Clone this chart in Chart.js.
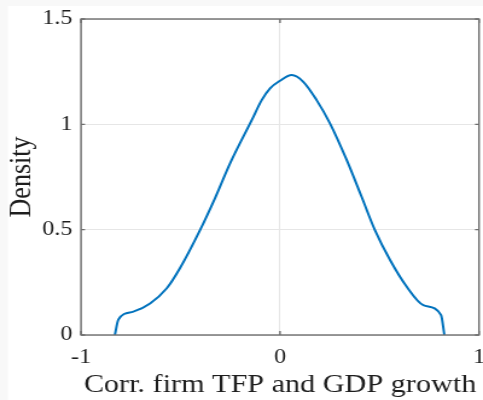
<!DOCTYPE html>
<html>
<head>
<meta charset="utf-8">
<script src="https://cdn.jsdelivr.net/npm/chart.js@4/dist/chart.umd.min.js"></script>
<style>
  html, body { margin: 0; padding: 0; background: #f8f8f8; overflow: hidden; }
  #wrap { width: 400px; height: 400px; transform: scaleX(1.2075); transform-origin: 0 0; }
</style>
</head>
<body>
<div id="wrap"><canvas id="chart" width="400" height="400"></canvas></div>
<script>
// kernel density of the correlation
const corrValues = [-0.830, -0.812, -0.737, -0.653, -0.569, -0.503, -0.402, -0.327, -0.251, -0.142,
  -0.092, -0.050, 0.000, 0.059, 0.117, 0.184, 0.251, 0.335, 0.410, 0.477,
  0.553, 0.637, 0.720, 0.809, 0.826];
const densityValues = [0.000, 0.074, 0.111, 0.150, 0.222, 0.317, 0.498, 0.649, 0.815, 1.020,
  1.115, 1.171, 1.207, 1.234, 1.202, 1.115, 1.005, 0.831, 0.656, 0.498,
  0.356, 0.229, 0.142, 0.095, 0.000];

const xTicks = [-1, 0, 1];
const xTickLabels = ['-1', '0', '1'];
const yTicks = [0, 0.5, 1, 1.5];
const yTickLabels = ['0', '0.5', '1', '1.5'];

const xTitle = 'Corr. firm TFP and GDP growth';
const yTitle = 'Density';

const stretch = 483 / 400;
const serif = "'Liberation Serif', 'Times New Roman', serif";
const textColor = '#1e1e1e';
const boxColor = '#6e6e6e';

const points = corrValues.map((x, i) => ({ x: x, y: densityValues[i] }));

function setTicks(values) {
  return scale => { scale.ticks = values.map(v => ({ value: v })); };
}
function fitX(scale) {
  scale.paddingLeft = 0;
  scale.paddingRight = 0;
  scale.height = 65;
}
function fitY(scale) {
  scale.paddingTop = 0;
  scale.paddingBottom = 0;
  scale.width = 81 / stretch;
}

const frame = {
  id: 'frame',
  beforeDraw(chart) {
    const ctx = chart.ctx;
    ctx.save();
    ctx.fillStyle = '#ffffff';
    ctx.fillRect(8 / stretch, 6, chart.width, chart.height);
    ctx.restore();
  },
  afterDraw(chart) {
    const { ctx, chartArea: a, scales } = chart;
    ctx.save();
    ctx.strokeStyle = boxColor;
    ctx.lineWidth = 1.4;
    ctx.strokeRect(a.left, a.top, a.right - a.left, a.bottom - a.top);
    // inward tick marks, like the original
    ctx.beginPath();
    xTicks.forEach(v => {
      const px = scales.x.getPixelForValue(v);
      ctx.moveTo(px, a.bottom); ctx.lineTo(px, a.bottom - 4);
      ctx.moveTo(px, a.top); ctx.lineTo(px, a.top + 4);
    });
    yTicks.forEach(v => {
      const py = scales.y.getPixelForValue(v);
      ctx.moveTo(a.left, py); ctx.lineTo(a.left + 4 / stretch, py);
      ctx.moveTo(a.right, py); ctx.lineTo(a.right - 4 / stretch, py);
    });
    ctx.stroke();
    ctx.restore();
  }
};

new Chart(document.getElementById('chart'), {
  type: 'line',
  data: {
    datasets: [{
      data: points,
      borderColor: '#0072BD',
      borderWidth: 2,
      pointRadius: 0,
      fill: false,
      cubicInterpolationMode: 'monotone'
    }]
  },
  options: {
    responsive: false,
    animation: false,
    devicePixelRatio: 1,
    layout: { padding: { left: 0, right: 400 - 479 / stretch, top: 19, bottom: 0 } },
    plugins: { legend: { display: false }, tooltip: { enabled: false } },
    scales: {
      x: {
        type: 'linear',
        min: -1,
        max: 1,
        afterBuildTicks: setTicks(xTicks),
        afterFit: fitX,
        border: { display: false },
        grid: { color: '#e6e6e6', lineWidth: 1, drawTicks: false },
        ticks: {
          padding: 11,
          maxRotation: 0,
          color: textColor,
          font: { family: serif, size: 20 },
          callback: (v, i) => xTickLabels[i]
        },
        title: {
          display: true,
          text: xTitle,
          color: textColor,
          font: { family: serif, size: 25 },
          padding: 0
        }
      },
      y: {
        type: 'linear',
        min: 0,
        max: 1.5,
        afterBuildTicks: setTicks(yTicks),
        afterFit: fitY,
        border: { display: false },
        grid: { color: '#e6e6e6', lineWidth: 1, drawTicks: false },
        ticks: {
          padding: 7,
          color: textColor,
          font: { family: serif, size: 20 },
          callback: (v, i) => yTickLabels[i]
        },
        title: {
          display: true,
          text: yTitle,
          color: textColor,
          font: { family: serif, size: 26 },
          padding: { top: 3, bottom: 0 }
        }
      }
    }
  },
  plugins: [frame]
});
</script>
</body>
</html>
